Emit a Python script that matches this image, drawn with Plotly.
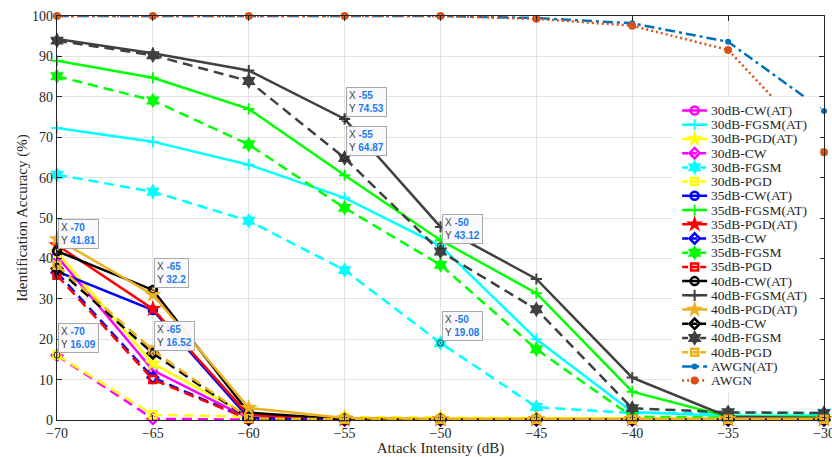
import plotly.graph_objects as go

# Attack intensity sweep (dB)
attack_db = [-70, -65, -60, -55, -50, -45, -40, -35, -30]
x_ticks = [-70, -65, -60, -55, -50, -45, -40, -35, -30]
y_ticks = [0, 10, 20, 30, 40, 50, 60, 70, 80, 90, 100]

# Identification accuracy (%) per training SNR / attack type
acc_30_cw_at = [40.5, 12.3, 0.4, 0.1, 0.1, 0.1, 0.1, 0.1, 0.1]
acc_30_fgsm_at = [72.3, 68.9, 63.2, 55.0, 43.12, 20.0, 2.0, 1.0, 1.2]
acc_30_pgd_at = [41.5, 14.0, 1.0, 0.3, 0.3, 0.3, 0.3, 0.3, 0.3]
acc_30_cw = [16.0, 0.3, 0.1, 0.0, 0.0, 0.0, 0.0, 0.0, 0.0]
acc_30_fgsm = [60.7, 56.5, 49.3, 37.1, 19.08, 3.2, 1.7, 1.8, 1.8]
acc_30_pgd = [16.09, 1.3, 0.8, 0.7, 0.5, 0.4, 0.3, 0.3, 0.3]
acc_35_cw_at = [36.8, 27.2, 0.5, 0.1, 0.1, 0.1, 0.1, 0.1, 0.1]
acc_35_fgsm_at = [88.9, 84.7, 77.0, 60.6, 44.5, 31.4, 7.0, 0.8, 0.8]
acc_35_pgd_at = [43.3, 27.5, 1.2, 0.2, 0.2, 0.2, 0.2, 0.2, 0.2]
acc_35_cw = [36.5, 10.5, 0.2, 0.0, 0.0, 0.0, 0.0, 0.0, 0.0]
acc_35_fgsm = [85.1, 79.1, 68.2, 52.5, 38.4, 17.5, 0.8, 0.6, 0.6]
acc_35_pgd = [35.8, 10.0, 0.2, 0.0, 0.0, 0.0, 0.0, 0.0, 0.0]
acc_40_cw_at = [41.81, 32.2, 1.8, 0.2, 0.2, 0.2, 0.2, 0.2, 0.2]
acc_40_fgsm_at = [94.3, 90.8, 86.5, 74.53, 47.8, 34.9, 10.5, 0.8, 0.5]
acc_40_pgd_at = [44.8, 31.0, 3.0, 0.5, 0.3, 0.3, 0.3, 0.3, 0.3]
acc_40_cw = [37.5, 16.52, 0.3, 0.1, 0.1, 0.1, 0.1, 0.1, 0.1]
acc_40_fgsm = [93.9, 90.3, 83.9, 64.87, 41.7, 27.4, 2.9, 1.9, 1.7]
acc_40_pgd = [38.3, 17.3, 0.4, 0.2, 0.2, 0.2, 0.2, 0.2, 0.2]
acc_awgn_at = [100, 100, 100, 100, 100, 99.5, 98.2, 93.6, 76.5]
acc_awgn = [100, 100, 100, 100, 100, 99.3, 97.6, 91.6, 66.3]

series_names = [
    "30dB-CW(AT)", "30dB-FGSM(AT)", "30dB-PGD(AT)", "30dB-CW", "30dB-FGSM", "30dB-PGD",
    "35dB-CW(AT)", "35dB-FGSM(AT)", "35dB-PGD(AT)", "35dB-CW", "35dB-FGSM", "35dB-PGD",
    "40dB-CW(AT)", "40dB-FGSM(AT)", "40dB-PGD(AT)", "40dB-CW", "40dB-FGSM", "40dB-PGD",
    "AWGN(AT)", "AWGN",
]
series_values = [
    acc_30_cw_at, acc_30_fgsm_at, acc_30_pgd_at, acc_30_cw, acc_30_fgsm, acc_30_pgd,
    acc_35_cw_at, acc_35_fgsm_at, acc_35_pgd_at, acc_35_cw, acc_35_fgsm, acc_35_pgd,
    acc_40_cw_at, acc_40_fgsm_at, acc_40_pgd_at, acc_40_cw, acc_40_fgsm, acc_40_pgd,
    acc_awgn_at, acc_awgn,
]

# Styling: colour per SNR group, marker/dash per attack type
group_colors = {
    "30": ["#FF00FF", "#00FFFF", "#FFFF00"],
    "35": ["#0000FF", "#00FF00", "#FF0000"],
    "40": ["#000000", "#404040", "#EDB120"],
}
attack_markers = {
    "CW(AT)": dict(symbol="circle-open", size=8, lw=2.5),
    "FGSM(AT)": dict(symbol="cross-thin-open", size=8, lw=2),
    "PGD(AT)": dict(symbol="star", size=13, lw=0),
    "CW": dict(symbol="diamond-open", size=8, lw=2.5),
    "FGSM": dict(symbol="hexagram", size=12, lw=0),
    "PGD": dict(symbol="square-open", size=7, lw=2.5),
}
DASH = "10px,6px"
SERIF = "Liberation Serif, Times New Roman, serif"


def style_for(name):
    if name == "AWGN(AT)":
        return "#0072BD", "10px,4px,3px,4px", dict(symbol="circle", size=6, lw=0)
    if name == "AWGN":
        return "#D95319", "2px,3px", dict(symbol="circle", size=8, lw=0)
    snr, attack = name.split("dB-")
    base = attack.replace("(AT)", "")
    idx = ["CW", "FGSM", "PGD"].index(base)
    color = group_colors[snr][idx]
    dash = "solid" if attack.endswith("(AT)") else DASH
    return color, dash, attack_markers[attack]


fig = go.Figure()
styles = [style_for(n) for n in series_names]

for name, vals, (color, dash, mk) in zip(series_names, series_values, styles):
    fig.add_trace(go.Scatter(
        x=attack_db, y=vals, name=name, mode="lines+markers",
        line=dict(color=color, width=2.5, dash=dash),
        marker=dict(symbol=mk["symbol"], size=mk["size"], color=color,
                    line=dict(color=color, width=mk["lw"])),
        cliponaxis=False, showlegend=False,
    ))

# Data tips: (series, index)
tips = [
    ("40dB-CW(AT)", 0), ("40dB-CW(AT)", 1), ("30dB-PGD", 0), ("40dB-CW", 1),
    ("40dB-FGSM(AT)", 3), ("40dB-FGSM", 3), ("30dB-FGSM(AT)", 4), ("30dB-FGSM", 4),
]
tip_x = [attack_db[i] for _, i in tips]
tip_y = [series_values[series_names.index(s)][i] for s, i in tips]
fig.add_trace(go.Scatter(
    x=tip_x, y=tip_y, mode="markers", showlegend=False, cliponaxis=False,
    marker=dict(symbol="circle-open-dot", size=6, color="#202020", line=dict(width=1)),
))

annotations = []
for tx, ty in zip(tip_x, tip_y):
    annotations.append(dict(
        x=tx, y=ty, xref="x", yref="y", xanchor="left", yanchor="bottom",
        xshift=1, yshift=2, showarrow=False, align="left",
        text=(f"X <b><span style='color:#1a7cf5'>{tx:g}</span></b><br>"
              f"Y <b><span style='color:#1a7cf5'>{ty:g}</span></b>"),
        font=dict(family="Liberation Sans, Arial", size=10, color="#404040"),
        bgcolor="rgba(250,250,252,0.95)", bordercolor="#a8a8a8", borderwidth=1, borderpad=2,
    ))

# Legend panel drawn in its own overlapping subplot (white background covers the lines)
row0, row_step = 13.7, 14.2
for i, (name, (color, dash, mk)) in enumerate(zip(series_names, styles)):
    yy = row0 + row_step * i
    fig.add_trace(go.Scatter(
        x=[10, 35], y=[yy, yy], xaxis="x2", yaxis="y2", mode="lines", showlegend=False,
        line=dict(color=color, width=2.5, dash="solid" if dash == "solid" else (
            "6px,3px" if dash == DASH else dash)),
        hoverinfo="skip",
    ))
    fig.add_trace(go.Scatter(
        x=[22.5], y=[yy], xaxis="x2", yaxis="y2", mode="markers", showlegend=False,
        marker=dict(symbol=mk["symbol"], size=mk["size"], color=color,
                    line=dict(color=color, width=mk["lw"])),
        cliponaxis=False, hoverinfo="skip",
    ))
    annotations.append(dict(
        x=37, y=yy, xref="x2", yref="y2", xanchor="left", yanchor="middle",
        showarrow=False, text=name,
        font=dict(family=SERIF, size=13.5, color="#262626"),
    ))

axis_common = dict(
    showline=True, linecolor="#262626", linewidth=1.2, mirror="ticks",
    ticks="inside", ticklen=5, tickcolor="#262626", tickwidth=1,
    showgrid=True, gridcolor="#e2e2e2", gridwidth=1, zeroline=False,
    automargin=False, ticklabeloverflow="allow",
    tickfont=dict(family=SERIF, size=14, color="#262626"),
)

fig.update_layout(
    width=832, height=457,
    margin=dict(l=57, r=8, t=16, b=37),
    paper_bgcolor="white", plot_bgcolor="white",
    showlegend=False,
    xaxis=dict(
        range=[-70, -30], tickvals=x_ticks, domain=[0, 1],
        title=dict(text="Attack Intensity (dB)", standoff=4,
                   font=dict(family=SERIF, size=15, color="#262626")),
        **axis_common,
    ),
    yaxis=dict(
        range=[0, 100], tickvals=y_ticks, domain=[0, 1],
        title=dict(text="Identification Accuracy (%)", standoff=0,
                   font=dict(family=SERIF, size=15, color="#262626")),
        **axis_common,
    ),
    xaxis2=dict(domain=[0.802, 0.995], range=[0, 148], anchor="y2", visible=False, fixedrange=True),
    yaxis2=dict(domain=[0.069, 0.80], range=[295, 0], anchor="x2", visible=False, fixedrange=True),
    annotations=annotations,
)

fig.write_html("out.html")
